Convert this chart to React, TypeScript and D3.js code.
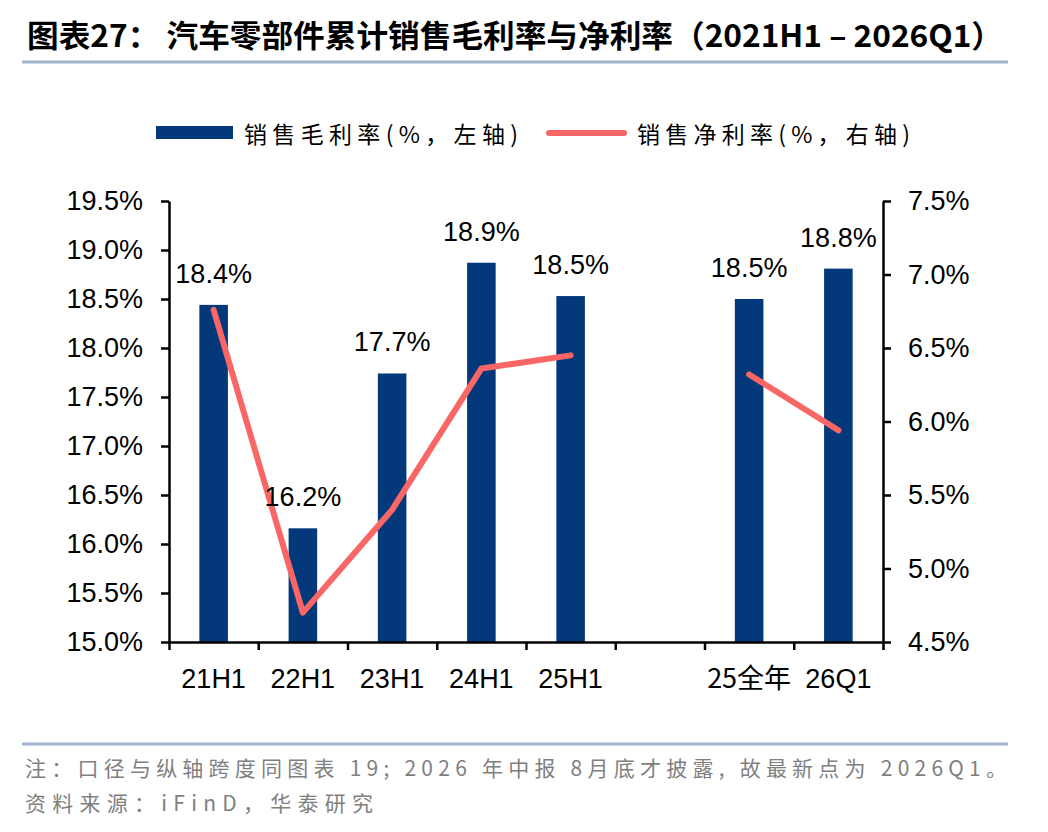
import { useEffect, useRef } from "react";
import * as d3 from "d3";

// chart data
const categories = ["21H1", "22H1", "23H1", "24H1", "25H1", "", "25全年", "26Q1"];
const grossMargin = [18.44, 16.16, 17.74, 18.87, 18.53, null, 18.5, 18.81];
const netMargin = [6.76, 4.7, 5.4, 6.36, 6.45, null, 6.32, 5.94];
const leftTicks = [15, 15.5, 16, 16.5, 17, 17.5, 18, 18.5, 19, 19.5];
const rightTicks = [4.5, 5, 5.5, 6, 6.5, 7, 7.5];

const legendNames = ["销售毛利率(%，左轴)", "销售净利率(%，右轴)"];
const titleText = "图表27：  汽车零部件累计销售毛利率与净利率（2021H1 – 2026Q1）";
const noteText = "注：口径与纵轴跨度同图表 19; 2026 年中报 8月底才披露, 故最新点为 2026Q1。";
const sourceText = "资料来源：iFinD，华泰研究";

const BAR_COLOR = "#03397a";
const LINE_COLOR = "#f86666";
const RULE_COLOR = "#9fb5ce";
const LATIN = "'Liberation Sans', Arial, sans-serif";
const CJK = "'Noto Sans CJK SC', 'Liberation Sans', sans-serif";

const Chart = () => {
  const ref = useRef<HTMLDivElement | null>(null);

  function render(svg: any) {
    const width = 1048;
    const height = 832;
    const left = 169;
    const right = 883;
    const top = 201;
    const bottom = 642;

    svg.attr("width", width).attr("height", height).style("display", "block");
    svg.append("rect").attr("width", width).attr("height", height).attr("fill", "#fff");

    // title + rules
    svg
      .append("text")
      .attr("x", 27)
      .attr("y", 47)
      .attr("font-family", CJK)
      .attr("font-weight", "bold")
      .attr("font-size", 31)
      .attr("textLength", 976)
      .attr("lengthAdjust", "spacingAndGlyphs")
      .text(titleText);
    svg.append("line").attr("x1", 22).attr("x2", 1008).attr("y1", 62).attr("y2", 62)
      .attr("stroke", RULE_COLOR).attr("stroke-width", 3);
    svg.append("line").attr("x1", 22).attr("x2", 1008).attr("y1", 744).attr("y2", 744)
      .attr("stroke", RULE_COLOR).attr("stroke-width", 3);

    // legend
    svg.append("rect").attr("x", 156).attr("y", 126).attr("width", 77).attr("height", 13).attr("fill", BAR_COLOR);
    svg.append("text").attr("x", 244).attr("y", 143).attr("font-family", CJK).attr("font-size", 23)
      .attr("textLength", 274).attr("lengthAdjust", "spacing").text(legendNames[0]);
    svg.append("line").attr("x1", 549).attr("x2", 624).attr("y1", 133).attr("y2", 133)
      .attr("stroke", LINE_COLOR).attr("stroke-width", 6).attr("stroke-linecap", "round");
    svg.append("text").attr("x", 637).attr("y", 143).attr("font-family", CJK).attr("font-size", 23)
      .attr("textLength", 273).attr("lengthAdjust", "spacing").text(legendNames[1]);

    // scales
    const idx = categories.map((_, i) => String(i));
    const x = d3.scaleBand().domain(idx).range([left, right]);
    const xEdge = d3.scaleLinear().domain([0, categories.length]).range([left, right]);
    const yL = d3.scaleLinear().domain([15, 19.5]).range([bottom, top]);
    const yR = d3.scaleLinear().domain([4.5, 7.5]).range([bottom, top]);
    const cx = (i: number) => (x(String(i)) as number) + x.bandwidth() / 2;
    const barW = x.bandwidth() * 0.32;

    // bars
    grossMargin.forEach((v, i) => {
      if (v == null) return;
      svg.append("rect")
        .attr("x", cx(i) - barW / 2)
        .attr("y", yL(v))
        .attr("width", barW)
        .attr("height", bottom - yL(v))
        .attr("fill", BAR_COLOR);
    });

    // net margin line
    const line = d3
      .line<number | null>()
      .defined((d) => d != null)
      .x((_, i) => cx(i))
      .y((d) => yR(d as number));
    svg.append("path")
      .attr("d", line(netMargin))
      .attr("fill", "none")
      .attr("stroke", LINE_COLOR)
      .attr("stroke-width", 6)
      .attr("stroke-linecap", "round")
      .attr("stroke-linejoin", "round");

    // axes
    const pct = (d: any) => d3.format(".1f")(d) + "%";
    const styleAxis = (g: any) => {
      g.selectAll("path").attr("stroke", "#000").attr("stroke-width", 2.5);
      g.selectAll("line").attr("stroke", "#000").attr("stroke-width", 2.5);
      g.selectAll("text").attr("fill", "#000").attr("font-size", 27).attr("font-family", LATIN);
    };
    svg.append("g")
      .attr("transform", `translate(${left},0)`)
      .call(d3.axisLeft(yL).tickValues(leftTicks).tickSize(8).tickSizeOuter(0).tickPadding(18).tickFormat(pct))
      .call(styleAxis);
    svg.append("g")
      .attr("transform", `translate(${right},0)`)
      .call(d3.axisRight(yR).tickValues(rightTicks).tickSize(8).tickSizeOuter(0).tickPadding(17).tickFormat(pct))
      .call(styleAxis);
    svg.append("g")
      .attr("transform", `translate(0,${bottom})`)
      .call(d3.axisBottom(xEdge).tickValues(d3.range(categories.length + 1)).tickSize(8).tickSizeOuter(0).tickFormat(() => ""))
      .call(styleAxis);

    // category labels
    categories.forEach((c, i) => {
      svg.append("text")
        .attr("x", cx(i))
        .attr("y", 688)
        .attr("text-anchor", "middle")
        .attr("font-family", /[\u4e00-\u9fff]/.test(c) ? CJK : LATIN)
        .attr("font-size", 27)
        .text(c);
    });

    // bar value labels
    grossMargin.forEach((v, i) => {
      if (v == null) return;
      svg.append("text")
        .attr("x", cx(i))
        .attr("y", yL(v) - 22)
        .attr("text-anchor", "middle")
        .attr("font-family", LATIN)
        .attr("font-size", 27)
        .text(pct(v));
    });

    // footer
    svg.append("text").attr("x", 25).attr("y", 776).attr("font-family", CJK).attr("font-size", 21)
      .attr("fill", "#7f7f7f").attr("textLength", 982).attr("lengthAdjust", "spacing").text(noteText);
    svg.append("text").attr("x", 25).attr("y", 811).attr("font-family", CJK).attr("font-size", 21)
      .attr("fill", "#7f7f7f").attr("textLength", 348).attr("lengthAdjust", "spacing").text(sourceText);
  }

  useEffect(() => {
    if (ref.current) {
      const svg = d3.select(ref.current).append("svg");
      render(svg);
      return () => {
        svg.remove();
      };
    }
  }, []);

  return <div ref={ref} style={{ position: "absolute", left: 0, top: 0 }}></div>;
};

export default function App() {
  return <Chart />;
}
